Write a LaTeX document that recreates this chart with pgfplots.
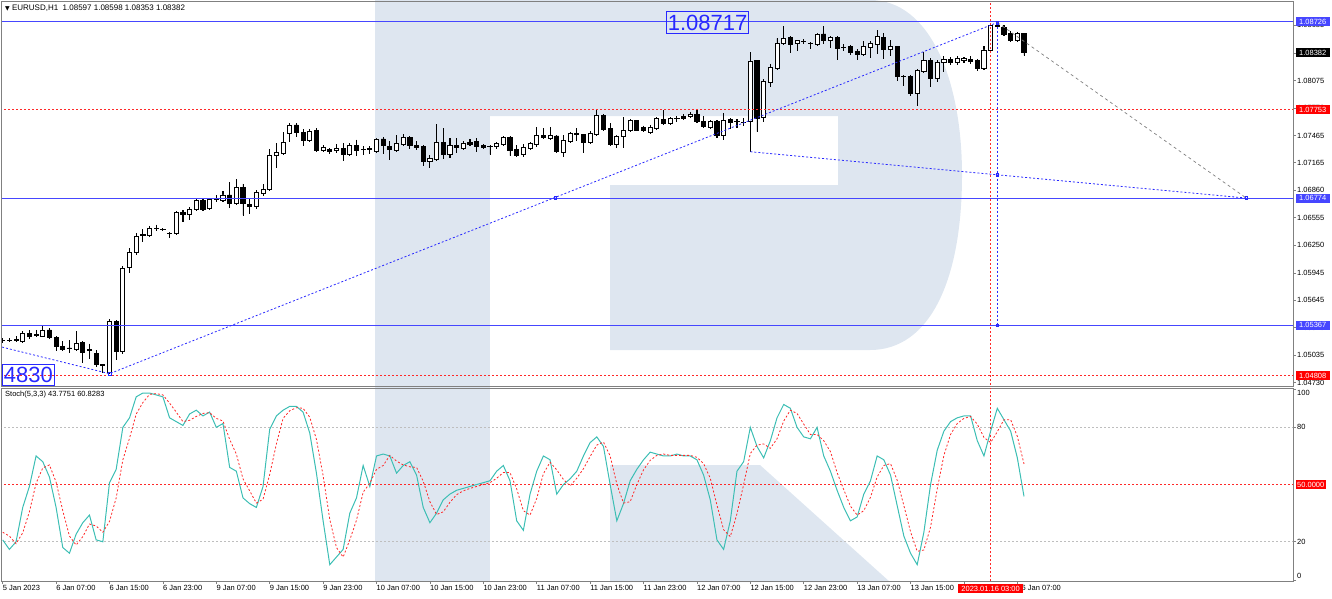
\documentclass[border=0pt]{standalone}
\usepackage{pgfplots}
\pgfplotsset{compat=1.18}
\usepackage{pgfplotstable}
\usepackage{fontspec}
\setmainfont{Liberation Sans}
\newfontfamily\symf{DejaVu Sans}
\definecolor{logo}{RGB}{222,230,240}
\definecolor{lblue}{RGB}{70,70,255}
\definecolor{dblue}{RGB}{40,40,255}
\definecolor{kteal}{RGB}{60,190,180}
\definecolor{frm}{RGB}{128,128,128}
\definecolor{gridg}{RGB}{190,190,190}
\definecolor{lred}{RGB}{255,40,40}

\pgfplotstableread{
i o h l c
0 1.05195 1.05222 1.05173 1.05197
1 1.05196 1.05222 1.05184 1.05194
2 1.05200 1.05240 1.05190 1.05205
3 1.05184 1.05302 1.05173 1.05277
4 1.05277 1.05306 1.05222 1.05240
5 1.05260 1.05314 1.05240 1.05255
6 1.05247 1.05350 1.05240 1.05306
7 1.05314 1.05332 1.05222 1.05233
8 1.05229 1.05240 1.05092 1.05129
9 1.05129 1.05184 1.05084 1.05100
10 1.05115 1.05203 1.05062 1.05110
11 1.05100 1.05295 1.05092 1.05166
12 1.05173 1.05184 1.04952 1.05062
13 1.05095 1.05159 1.05000 1.05090
14 1.05055 1.05092 1.04907 1.04934
15 1.04930 1.04937 1.04840 1.04925
16 1.04845 1.05432 1.04830 1.05405
17 1.05405 1.05424 1.04989 1.05073
18 1.05075 1.06014 1.05055 1.05996
19 1.06008 1.06218 1.05948 1.06169
20 1.06169 1.06384 1.06155 1.06354
21 1.06360 1.06428 1.06291 1.06372
22 1.06365 1.06465 1.06354 1.06439
23 1.06440 1.06476 1.06413 1.06442
24 1.06430 1.06439 1.06413 1.06428
25 1.06386 1.06395 1.06340 1.06384
26 1.06384 1.06623 1.06376 1.06612
27 1.06612 1.06642 1.06512 1.06597
28 1.06597 1.06672 1.06539 1.06649
29 1.06649 1.06760 1.06642 1.06752
30 1.06752 1.06760 1.06634 1.06649
31 1.06656 1.06771 1.06649 1.06760
32 1.06762 1.06808 1.06734 1.06758
33 1.06752 1.06844 1.06734 1.06808
34 1.06808 1.06944 1.06672 1.06716
35 1.06716 1.06981 1.06708 1.06893
36 1.06893 1.06930 1.06586 1.06716
37 1.06708 1.06760 1.06605 1.06678
38 1.06678 1.06855 1.06661 1.06833
39 1.06827 1.06926 1.06808 1.06874
40 1.06874 1.07314 1.06860 1.07251
41 1.07243 1.07380 1.07110 1.07276
42 1.07269 1.07502 1.07258 1.07387
43 1.07491 1.07601 1.07398 1.07575
44 1.07583 1.07601 1.07460 1.07497
45 1.07497 1.07538 1.07361 1.07417
46 1.07417 1.07538 1.07405 1.07508
47 1.07527 1.07546 1.07295 1.07306
48 1.07306 1.07353 1.07287 1.07331
49 1.07314 1.07325 1.07269 1.07287
50 1.07306 1.07369 1.07280 1.07325
51 1.07325 1.07380 1.07195 1.07258
52 1.07258 1.07380 1.07251 1.07361
53 1.07361 1.07417 1.07243 1.07306
54 1.07317 1.07342 1.07258 1.07315
55 1.07317 1.07342 1.07269 1.07319
56 1.07287 1.07435 1.07280 1.07428
57 1.07428 1.07442 1.07269 1.07353
58 1.07342 1.07398 1.07206 1.07317
59 1.07306 1.07472 1.07295 1.07380
60 1.07369 1.07480 1.07353 1.07446
61 1.07446 1.07453 1.07325 1.07361
62 1.07361 1.07398 1.07317 1.07331
63 1.07342 1.07353 1.07132 1.07176
64 1.07184 1.07251 1.07110 1.07214
65 1.07206 1.07590 1.07195 1.07391
66 1.07391 1.07546 1.07214 1.07258
67 1.07258 1.07435 1.07221 1.07361
68 1.07361 1.07435 1.07280 1.07331
69 1.07325 1.07405 1.07317 1.07380
70 1.07391 1.07428 1.07353 1.07369
71 1.07405 1.07435 1.07295 1.07342
72 1.07361 1.07369 1.07325 1.07331
73 1.07342 1.07353 1.07258 1.07340
74 1.07342 1.07391 1.07325 1.07380
75 1.07369 1.07453 1.07361 1.07442
76 1.07442 1.07453 1.07243 1.07306
77 1.07310 1.07353 1.07240 1.07251
78 1.07262 1.07372 1.07240 1.07336
79 1.07325 1.07387 1.07314 1.07380
80 1.07372 1.07557 1.07350 1.07472
81 1.07472 1.07546 1.07435 1.07446
82 1.07435 1.07557 1.07424 1.07472
83 1.07461 1.07472 1.07276 1.07287
84 1.07276 1.07472 1.07240 1.07409
85 1.07398 1.07498 1.07387 1.07491
86 1.07483 1.07546 1.07417 1.07485
87 1.07480 1.07483 1.07276 1.07387
88 1.07387 1.07508 1.07380 1.07491
89 1.07483 1.07756 1.07472 1.07686
90 1.07686 1.07701 1.07520 1.07535
91 1.07546 1.07601 1.07361 1.07372
92 1.07372 1.07472 1.07336 1.07461
93 1.07453 1.07668 1.07336 1.07527
94 1.07520 1.07646 1.07508 1.07630
95 1.07630 1.07638 1.07520 1.07527
96 1.07557 1.07572 1.07508 1.07527
97 1.07497 1.07583 1.07491 1.07557
98 1.07546 1.07668 1.07535 1.07657
99 1.07649 1.07741 1.07594 1.07601
100 1.07601 1.07668 1.07594 1.07657
101 1.07657 1.07682 1.07619 1.07659
102 1.07682 1.07704 1.07646 1.07657
103 1.07675 1.07719 1.07668 1.07704
104 1.07704 1.07749 1.07608 1.07619
105 1.07619 1.07675 1.07557 1.07564
106 1.07557 1.07638 1.07546 1.07619
107 1.07619 1.07630 1.07446 1.07472
108 1.07472 1.07712 1.07424 1.07638
109 1.07646 1.07657 1.07546 1.07608
110 1.07620 1.07646 1.07557 1.07618
111 1.07610 1.07657 1.07583 1.07612
112 1.07619 1.08383 1.07287 1.08283
113 1.08294 1.08302 1.07508 1.07657
114 1.07668 1.08088 1.07619 1.08062
115 1.08051 1.08258 1.08014 1.08221
116 1.08210 1.08542 1.08199 1.08487
117 1.08487 1.08671 1.08479 1.08542
118 1.08553 1.08560 1.08383 1.08479
119 1.08487 1.08523 1.08405 1.08516
120 1.08505 1.08531 1.08487 1.08503
121 1.08489 1.08494 1.08431 1.08487
122 1.08479 1.08597 1.08468 1.08590
123 1.08590 1.08671 1.08487 1.08516
124 1.08523 1.08567 1.08442 1.08553
125 1.08553 1.08560 1.08310 1.08431
126 1.08442 1.08479 1.08405 1.08440
127 1.08457 1.08468 1.08368 1.08383
128 1.08394 1.08420 1.08310 1.08368
129 1.08368 1.08505 1.08357 1.08457
130 1.08442 1.08505 1.08332 1.08487
131 1.08479 1.08634 1.08376 1.08560
132 1.08553 1.08597 1.08321 1.08420
133 1.08420 1.08516 1.08357 1.08450
134 1.08450 1.08457 1.08081 1.08117
135 1.08119 1.08136 1.08025 1.08117
136 1.08117 1.08136 1.07911 1.07933
137 1.07933 1.08199 1.07804 1.08183
138 1.08172 1.08383 1.08161 1.08294
139 1.08302 1.08320 1.08007 1.08099
140 1.08099 1.08302 1.08062 1.08272
141 1.08272 1.08339 1.08172 1.08310
142 1.08310 1.08332 1.08258 1.08272
143 1.08272 1.08339 1.08258 1.08320
144 1.08302 1.08332 1.08272 1.08320
145 1.08310 1.08339 1.08265 1.08283
146 1.08294 1.08310 1.08191 1.08210
147 1.08210 1.08450 1.08199 1.08413
148 1.08413 1.08700 1.08405 1.08689
149 1.08680 1.08717 1.08652 1.08674
150 1.08663 1.08689 1.08579 1.08590
151 1.08597 1.08615 1.08505 1.08516
152 1.08516 1.08604 1.08505 1.08597
153 1.08597 1.08598 1.08353 1.08382
}\candles

\pgfplotstableread{
i k d
0 21 25
1 16 23
2 20 19
3 38 24.7
4 49 35.7
5 65 50.7
6 62 58.7
7 54 60.3
8 38 51.3
9 17 36.3
10 14 23
11 24 18.3
12 30 22.7
13 34 29.3
14 21 28.3
15 20 25
16 51 30.7
17 58 43
18 80 63
19 85 74.3
20 96 87
21 98 93
22 98 97.3
23 97 97.7
24 96 97
25 85 92.7
26 83 88
27 81 83
28 87 83.7
29 89 85.7
30 86 87.3
31 88 87.7
32 80 84.7
33 82 83.3
34 59 73.7
35 57 66
36 43 53
37 40 46.7
38 38 40.3
39 49 42.3
40 79 55.3
41 86 71.3
42 89 84.7
43 91 88.7
44 91 90.3
45 88 90
46 77 85.3
47 56 73.7
48 31 54.7
49 8 31.7
50 12 17
51 16 12
52 35 21
53 43 31.3
54 60 46
55 49 50.7
56 65 58
57 66 60
58 65 65.3
59 56 62.3
60 60 60.3
61 62 59.3
62 55 59
63 38 51.7
64 30 41
65 35 34.3
66 42 35.7
67 45 40.7
68 47 44.7
69 48 46.7
70 49 48
71 50 49
72 51 50
73 52 51
74 57 53.3
75 60 56.3
76 52 56.3
77 31 47.7
78 26 36.3
79 45 34
80 57 42.7
81 65 55.7
82 63 61.7
83 45 57.7
84 50 52.7
85 53 49.3
86 57 53.3
87 65 58.3
88 72 64.7
89 75 70.7
90 70 72.3
91 50 65
92 31 50.3
93 40 40.3
94 52 41
95 58 50
96 63 57.7
97 67 62.7
98 66 65.3
99 65 66
100 65 65.3
101 66 65.3
102 65 65.3
103 65 65.3
104 63 64.3
105 55 61
106 42 53.3
107 21 39.3
108 16 26.3
109 31 22.7
110 57 34.7
111 62 50
112 80 66.3
113 70 70.7
114 64 71.3
115 73 69
116 85 74
117 92 83.3
118 90 89
119 80 87.3
120 75 81.7
121 74 76.3
122 80 76.3
123 65 73
124 57 67.3
125 47 56.3
126 38 47.3
127 31 38.7
128 33 34
129 45 36.3
130 52 43.3
131 65 54
132 63 60
133 55 61
134 39 52.3
135 23 39
136 14 25.3
137 8 15
138 25 15.7
139 50 27.7
140 68 47.7
141 78 65.3
142 83 76.3
143 85 82
144 86 84.7
145 86 85.7
146 73 81.7
147 65 74.7
148 78 72
149 90 77.7
150 84 84
151 78 84
152 64 75.3
153 43.78 60.83
}\stoch

\pgfplotsset{
  every axis/.append style={font=\fontsize{7.5}{8}\selectfont},
  mainax/.style={scale only axis, width=1291pt, height=385pt,
    at={(2pt,-1pt)}, anchor=north west,
    xmin=-0.105, xmax=193.3, ymin=1.04694, ymax=1.08955},
  reddot/.style={lred, line width=1pt, dash pattern=on 2pt off 2pt},
}

\begin{document}
\begin{tikzpicture}
\useasboundingbox (0,0) rectangle (1332pt,-598pt);
% watermark logo
\fill[logo] (375pt,0pt) rectangle (490pt,-582pt);
\fill[logo] (490pt,0pt) -- (870pt,0pt) .. controls (930pt,0pt) and (962pt,-80pt) .. (962pt,-175pt)
  .. controls (962pt,-280pt) and (930pt,-350pt) .. (870pt,-350pt) -- (610pt,-350pt) -- (610pt,-185pt)
  -- (838pt,-185pt) -- (838pt,-116pt) -- (490pt,-116pt) -- cycle;
\fill[logo] (610pt,-465pt) -- (760pt,-465pt) -- (890pt,-582pt) -- (610pt,-582pt) -- cycle;

% axis with frame, price scale and wicks
\begin{axis}[mainax, ybar stacked, bar width=0.01,
  axis line style={frm, line width=1pt},
  xtick=\empty,
  ytick={1.04730,1.05035,1.05340,1.05645,1.05945,1.06250,1.06555,1.06860,1.07165,1.07465,1.07770,1.08075,1.08380,1.08685},
  yticklabels={1.04730,1.05035,1.05340,1.05645,1.05945,1.06250,1.06555,1.06860,1.07165,1.07465,1.07770,1.08075,1.08380,1.08685},
  ytick pos=right, yticklabel pos=right, tick align=outside, major tick length=3pt,
  tick style={frm, line width=0.8pt}, yticklabel style={inner sep=1pt}]
\addplot[draw=none, fill=none] table[x=i, y=l] {\candles};
\addplot[draw=black, fill=black, line width=0.9pt] table[x=i, y expr=\thisrow{h}-\thisrow{l}] {\candles};
\end{axis}

% candle bodies
\begin{axis}[mainax, hide axis, ybar stacked, bar width=0.62]
\addplot[draw=none, fill=none] table[x=i, y expr={min(\thisrow{o},\thisrow{c})}] {\candles};
\addplot[draw=black, fill=black, line width=0.9pt] table[x=i, y expr={max(\thisrow{o}-\thisrow{c},0)}] {\candles};
\addplot[draw=black, fill=white, line width=0.9pt] table[x=i, y expr={max(\thisrow{c}-\thisrow{o},0)}] {\candles};
\end{axis}

% objects
\begin{axis}[mainax, hide axis]
\addplot[lblue, line width=1pt] coordinates {(-1,1.08726) (200,1.08726)};
\addplot[lblue, line width=1pt] coordinates {(-1,1.06774) (200,1.06774)};
\addplot[lblue, line width=1pt] coordinates {(-1,1.05367) (200,1.05367)};
\addplot[reddot] coordinates {(-1,1.07753) (200,1.07753)};
\addplot[reddot] coordinates {(-1,1.04808) (200,1.04808)};
\addplot[reddot] coordinates {(148,1.04) (148,1.09)};
\addplot[dblue, line width=0.8pt, dash pattern=on 2pt off 2pt] coordinates {(-0.105,1.05125) (16,1.04830) (149,1.08717)};
\addplot[dblue, line width=0.8pt, dash pattern=on 2pt off 2pt] coordinates {(112,1.07287) (186.3,1.06774)};
\addplot[dblue, line width=0.8pt, dash pattern=on 2pt off 2pt] coordinates {(149,1.08717) (149,1.05367)};
\addplot[gray, line width=0.7pt, dash pattern=on 3pt off 3pt] coordinates {(149,1.08717) (186.3,1.06774)};
\addplot[dblue, only marks, mark=square, mark size=1.3pt, mark options={line width=0.6pt}] coordinates {(82.8,1.06774) (149,1.07029) (149,1.05367) (186.3,1.06774) (149,1.08717) (16,1.04830)};
\node[draw=dblue, text=dblue, line width=0.8pt, font=\fontsize{22}{23}\selectfont, inner xsep=1pt, inner ysep=3pt] at (axis cs:105.6,1.08717) {1.08717};
\node[draw=dblue, text=dblue, line width=0.8pt, font=\fontsize{22}{23}\selectfont, inner xsep=1.5pt, inner ysep=3pt, anchor=east] at (axis cs:7.8,1.04815) {4830};
\coordinate (pa) at (axis cs:193.3,1.08726);
\coordinate (pb) at (axis cs:193.3,1.08382);
\coordinate (pc) at (axis cs:193.3,1.07753);
\coordinate (pd) at (axis cs:193.3,1.06774);
\coordinate (pe) at (axis cs:193.3,1.05367);
\coordinate (pf) at (axis cs:193.3,1.04808);
\end{axis}

% stochastic panel
\begin{axis}[scale only axis, width=1291pt, height=193pt, at={(2pt,-388pt)}, anchor=north west,
  xmin=-0.105, xmax=193.3, ymin=-0.57, ymax=100.63,
  axis line style={frm, line width=1pt},
  ytick={20,80}, extra y ticks={0,100}, extra y tick labels={},
  ytick pos=right, yticklabel pos=right,
  xtick={0,8,...,152},
  xticklabels={5 Jan 2023,6 Jan 07:00,6 Jan 15:00,6 Jan 23:00,9 Jan 07:00,9 Jan 15:00,9 Jan 23:00,10 Jan 07:00,10 Jan 15:00,10 Jan 23:00,11 Jan 07:00,11 Jan 15:00,11 Jan 23:00,12 Jan 07:00,12 Jan 15:00,12 Jan 23:00,13 Jan 07:00,13 Jan 15:00,13 Jan 23:00,16 Jan 07:00},
  xtick pos=left, tick align=outside, major tick length=3pt,
  tick style={frm, line width=0.8pt},
  extra tick style={tick align=outside, major tick length=3pt, tick style={frm, line width=0.8pt}},
  xticklabel style={anchor=north west, xshift=-1pt, inner sep=1pt},
  yticklabel style={inner sep=1pt},
  /pgf/number format/assume math mode=true]
\addplot[gridg, line width=0.7pt, dash pattern=on 2pt off 2pt] coordinates {(-1,80) (200,80)};
\addplot[gridg, line width=0.7pt, dash pattern=on 2pt off 2pt] coordinates {(-1,20) (200,20)};
\addplot[reddot] coordinates {(-1,50) (200,50)};
\addplot[reddot] coordinates {(148,-5) (148,105)};
\addplot[kteal, line width=1pt] table[x=i, y=k] {\stoch};
\addplot[lred, line width=0.8pt, dash pattern=on 2pt off 2pt] table[x=i, y=d] {\stoch};
\coordinate (s50) at (axis cs:193.3,50);
\coordinate (s100) at (axis cs:193.3,100);
\coordinate (s0) at (axis cs:193.3,0);
\coordinate (xr) at (axis cs:148,-0.57);
\end{axis}

% labels on top
\tikzset{plab/.style={anchor=west, text=white, inner sep=1pt, font=\fontsize{7.5}{8}\selectfont, minimum width=34pt, minimum height=9pt}}
\node[plab, fill=lblue] at ([xshift=2.5pt]pa) {1.08726};
\node[plab, fill=black] at ([xshift=2.5pt]pb) {1.08382};
\node[plab, fill=red] at ([xshift=2.5pt]pc) {1.07753};
\node[plab, fill=lblue] at ([xshift=2.5pt]pd) {1.06774};
\node[plab, fill=lblue] at ([xshift=2.5pt]pe) {1.05367};
\node[plab, fill=red] at ([xshift=2.5pt]pf) {1.04808};
\node[plab, fill=red, minimum width=30pt] at ([xshift=2.5pt]s50) {50.0000};
\node[anchor=west, inner sep=1pt, font=\fontsize{7.5}{8}\selectfont] at ([xshift=3pt,yshift=-4pt]s100) {100};
\node[anchor=west, inner sep=1pt, font=\fontsize{7.5}{8}\selectfont] at ([xshift=3pt,yshift=4pt]s0) {0};
\node[anchor=north, fill=red, text=white, inner xsep=3.5pt, inner ysep=1pt, font=\fontsize{7.5}{8}\selectfont, minimum height=9pt] at ([yshift=-3pt]xr) {2023.01.16 03:00};
\node[anchor=west, inner sep=0pt, font=\fontsize{8}{9}\selectfont] at (5pt,-8.5pt) {{\symf\fontsize{6}{7}\selectfont ▼}\ EURUSD,H1\ \ 1.08597 1.08598 1.08353 1.08382};
\node[anchor=west, inner sep=0pt, font=\fontsize{7.5}{8}\selectfont] at (5pt,-395pt) {Stoch(5,3,3) 43.7751 60.8283};
\end{tikzpicture}
\end{document}
